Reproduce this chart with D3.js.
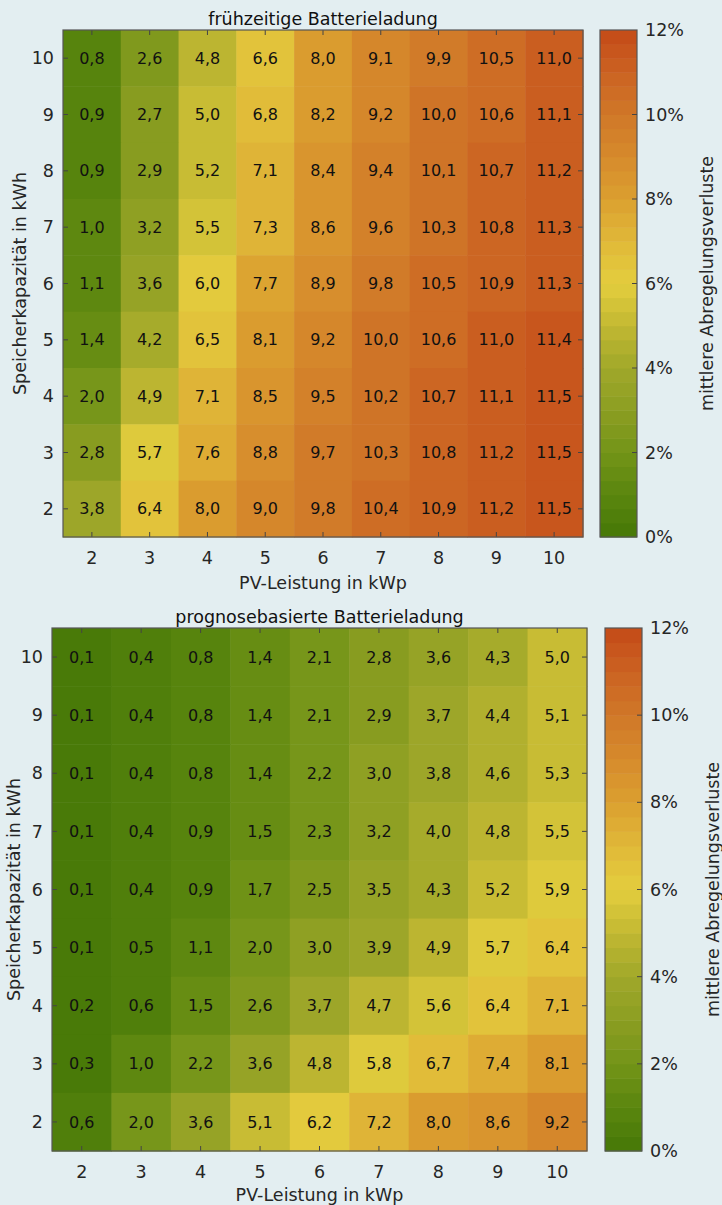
<!DOCTYPE html>
<html>
<head>
<meta charset="utf-8">
<script src="https://cdn.jsdelivr.net/npm/d3@7"></script>
<style>
  html, body { margin: 0; padding: 0; background: #e3eef1; }
  svg { display: block; font-family: "DejaVu Sans", Verdana, sans-serif; }
</style>
</head>
<body>
<div id="chart"></div>
<script>
const pvValues = [2, 3, 4, 5, 6, 7, 8, 9, 10];
const storageValues = [10, 9, 8, 7, 6, 5, 4, 3, 2];

// rows follow storageValues (10 kWh on top), columns follow pvValues
const earlyLoss = [
  [0.8, 2.6, 4.8, 6.6, 8.0, 9.1, 9.9, 10.5, 11.0],
  [0.9, 2.7, 5.0, 6.8, 8.2, 9.2, 10.0, 10.6, 11.1],
  [0.9, 2.9, 5.2, 7.1, 8.4, 9.4, 10.1, 10.7, 11.2],
  [1.0, 3.2, 5.5, 7.3, 8.6, 9.6, 10.3, 10.8, 11.3],
  [1.1, 3.6, 6.0, 7.7, 8.9, 9.8, 10.5, 10.9, 11.3],
  [1.4, 4.2, 6.5, 8.1, 9.2, 10.0, 10.6, 11.0, 11.4],
  [2.0, 4.9, 7.1, 8.5, 9.5, 10.2, 10.7, 11.1, 11.5],
  [2.8, 5.7, 7.6, 8.8, 9.7, 10.3, 10.8, 11.2, 11.5],
  [3.8, 6.4, 8.0, 9.0, 9.8, 10.4, 10.9, 11.2, 11.5]
];

const forecastLoss = [
  [0.1, 0.4, 0.8, 1.4, 2.1, 2.8, 3.6, 4.3, 5.0],
  [0.1, 0.4, 0.8, 1.4, 2.1, 2.9, 3.7, 4.4, 5.1],
  [0.1, 0.4, 0.8, 1.4, 2.2, 3.0, 3.8, 4.6, 5.3],
  [0.1, 0.4, 0.9, 1.5, 2.3, 3.2, 4.0, 4.8, 5.5],
  [0.1, 0.4, 0.9, 1.7, 2.5, 3.5, 4.3, 5.2, 5.9],
  [0.1, 0.5, 1.1, 2.0, 3.0, 3.9, 4.9, 5.7, 6.4],
  [0.2, 0.6, 1.5, 2.6, 3.7, 4.7, 5.6, 6.4, 7.1],
  [0.3, 1.0, 2.2, 3.6, 4.8, 5.8, 6.7, 7.4, 8.1],
  [0.6, 2.0, 3.6, 5.1, 6.2, 7.2, 8.0, 8.6, 9.2]
];

const colorTicks = [0, 2, 4, 6, 8, 10, 12];
const colorStops = [0, 1, 2, 3, 4, 5, 6, 7, 8, 9, 10, 11, 12];
const colorRange = ["#467807", "#5a860e", "#739418", "#8c9e22", "#a0a82a", "#c2b832", "#e4ce3e",
                    "#e0b838", "#dba030", "#d68a2c", "#d07828", "#cb6222", "#c44a17"];
const nLevels = 36;

const W = 722, H = 1205;
const svg = d3.select("#chart").append("svg").attr("width", W).attr("height", H);

const baseColor = d3.scaleLinear().domain(colorStops).range(colorRange).clamp(true);
const levelColor = v => {
  const step = 12 / nLevels;
  const i = Math.min(nLevels - 1, Math.max(0, Math.floor(v / step)));
  return baseColor((i + 0.5) * step);
};
const fmt = v => d3.format(".1f")(v).replace(".", ",");

function drawPanel(cfg) {
  const g = svg.append("g");
  const x = d3.scaleBand().domain(pvValues).range([cfg.left, cfg.right]);
  const y = d3.scaleBand().domain(storageValues).range([cfg.top, cfg.bottom]);

  const cells = [];
  storageValues.forEach((s, r) => pvValues.forEach((p, c) => cells.push({ s, p, v: cfg.data[r][c] })));

  g.selectAll("rect.cell")
    .data(cells)
    .join("rect")
    .attr("class", "cell")
    .attr("x", d => x(d.p))
    .attr("y", d => y(d.s))
    .attr("width", x.bandwidth() + 0.5)
    .attr("height", y.bandwidth() + 0.5)
    .attr("fill", d => levelColor(d.v));

  g.selectAll("text.val")
    .data(cells)
    .join("text")
    .attr("class", "val")
    .attr("x", d => x(d.p) + x.bandwidth() / 2)
    .attr("y", d => y(d.s) + y.bandwidth() / 2)
    .attr("dy", "0.35em")
    .attr("text-anchor", "middle")
    .attr("fill", "#111")
    .style("font-size", "16px")
    .text(d => fmt(d.v));

  // inward ticks on all four sides
  const tk = 5;
  const tickStyle = sel => sel.attr("stroke", "#444").attr("stroke-width", 1);
  pvValues.forEach(p => {
    const cx = x(p) + x.bandwidth() / 2;
    tickStyle(g.append("line").attr("x1", cx).attr("x2", cx).attr("y1", cfg.bottom).attr("y2", cfg.bottom - tk));
    tickStyle(g.append("line").attr("x1", cx).attr("x2", cx).attr("y1", cfg.top).attr("y2", cfg.top + tk));
  });
  storageValues.forEach(s => {
    const cy = y(s) + y.bandwidth() / 2;
    tickStyle(g.append("line").attr("y1", cy).attr("y2", cy).attr("x1", cfg.left).attr("x2", cfg.left + tk));
    tickStyle(g.append("line").attr("y1", cy).attr("y2", cy).attr("x1", cfg.right).attr("x2", cfg.right - tk));
  });

  g.append("rect")
    .attr("x", cfg.left).attr("y", cfg.top)
    .attr("width", cfg.right - cfg.left).attr("height", cfg.bottom - cfg.top)
    .attr("fill", "none").attr("stroke", "#555").attr("stroke-width", 1.2);

  const axisText = sel => sel.attr("fill", "#262626").style("font-size", "17.5px");

  g.selectAll("text.xt")
    .data(pvValues)
    .join("text")
    .attr("class", "xt")
    .attr("x", d => x(d) + x.bandwidth() / 2)
    .attr("y", cfg.bottom + 27)
    .attr("text-anchor", "middle")
    .call(axisText)
    .text(d => d);

  g.selectAll("text.yt")
    .data(storageValues)
    .join("text")
    .attr("class", "yt")
    .attr("x", cfg.left - 9)
    .attr("y", d => y(d) + y.bandwidth() / 2)
    .attr("dy", "0.35em")
    .attr("text-anchor", "end")
    .call(axisText)
    .text(d => d);

  g.append("text")
    .attr("x", (cfg.left + cfg.right) / 2)
    .attr("y", cfg.bottom + cfg.xLabelDy)
    .attr("text-anchor", "middle")
    .call(axisText)
    .text("PV-Leistung in kWp");

  g.append("text")
    .attr("transform", `translate(${cfg.yLabelX},${(cfg.top + cfg.bottom) / 2}) rotate(-90)`)
    .attr("text-anchor", "middle")
    .call(axisText)
    .text("Speicherkapazität in kWh");

  g.append("text")
    .attr("x", (cfg.left + cfg.right) / 2)
    .attr("y", cfg.top - 5)
    .attr("text-anchor", "middle")
    .attr("fill", "#111")
    .style("font-size", "17.5px")
    .text(cfg.title);

  // colour bar
  const cb = d3.scaleLinear().domain([0, 12]).range([cfg.bottom, cfg.top]);
  const levels = d3.range(nLevels);
  const step = 12 / nLevels;
  g.selectAll("rect.cb")
    .data(levels)
    .join("rect")
    .attr("class", "cb")
    .attr("x", cfg.cbLeft)
    .attr("y", i => cb((i + 1) * step))
    .attr("width", cfg.cbWidth)
    .attr("height", i => cb(i * step) - cb((i + 1) * step) + 0.5)
    .attr("fill", i => levelColor((i + 0.5) * step));

  g.append("rect")
    .attr("x", cfg.cbLeft).attr("y", cfg.top)
    .attr("width", cfg.cbWidth).attr("height", cfg.bottom - cfg.top)
    .attr("fill", "none").attr("stroke", "#555").attr("stroke-width", 1.2);

  const cbRight = cfg.cbLeft + cfg.cbWidth;
  colorTicks.forEach(t => {
    if (t > 0 && t < 12) {
      tickStyle(g.append("line").attr("x1", cbRight).attr("x2", cbRight - tk).attr("y1", cb(t)).attr("y2", cb(t)));
    }
  });
  g.selectAll("text.ct")
    .data(colorTicks)
    .join("text")
    .attr("class", "ct")
    .attr("x", cbRight + 8)
    .attr("y", d => cb(d))
    .attr("dy", "0.35em")
    .call(axisText)
    .text(d => d + "%");

  g.append("text")
    .attr("transform", `translate(${cfg.cbLabelX},${(cfg.top + cfg.bottom) / 2}) rotate(-90)`)
    .attr("text-anchor", "middle")
    .call(axisText)
    .text("mittlere Abregelungsverluste");
}

drawPanel({
  title: "frühzeitige Batterieladung",
  data: earlyLoss,
  left: 63, right: 583, top: 30, bottom: 537,
  cbLeft: 600, cbWidth: 37, cbLabelX: 713, yLabelX: 26, xLabelDy: 52
});

drawPanel({
  title: "prognosebasierte Batterieladung",
  data: forecastLoss,
  left: 52, right: 587, top: 628, bottom: 1151,
  cbLeft: 605, cbWidth: 37, cbLabelX: 719, yLabelX: 20, xLabelDy: 50
});
</script>
</body>
</html>
